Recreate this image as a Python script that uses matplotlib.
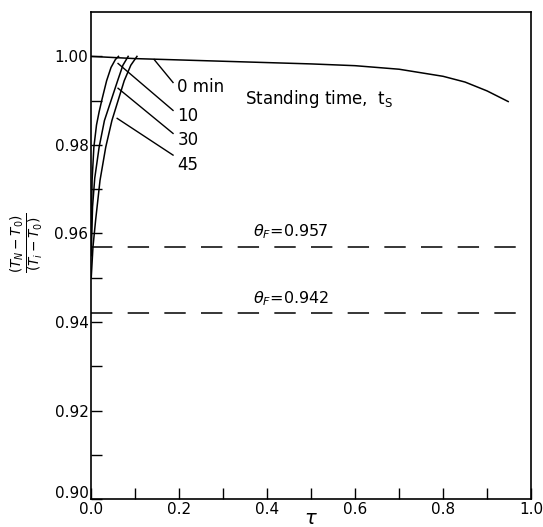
import matplotlib.pyplot as plt
from matplotlib.transforms import ScaledTranslation

# 0 min: no standing time, flat line slowly drooping
tau_0 = [0.0, 0.1, 0.2, 0.3, 0.4, 0.5, 0.6, 0.7, 0.8, 0.85, 0.9, 0.948]
theta_0 = [1.0, 0.9995, 0.9992, 0.9989, 0.9986, 0.9983, 0.9979, 0.9971, 0.9955, 0.9942, 0.9922, 0.9898]

# start-up curves after standing time of 10, 30, 45 min
tau_10 = [0.0, 0.002, 0.006, 0.012, 0.018, 0.025, 0.035, 0.045, 0.055, 0.062]
theta_10 = [0.960, 0.972, 0.9795, 0.9845, 0.9875, 0.9905, 0.9945, 0.9975, 0.9993, 1.0]
tau_30 = [0.0, 0.003, 0.008, 0.018, 0.030, 0.040, 0.050, 0.060, 0.072, 0.084]
theta_30 = [0.955, 0.966, 0.9725, 0.9795, 0.9855, 0.9885, 0.9915, 0.9945, 0.998, 1.0]
tau_45 = [0.0, 0.004, 0.010, 0.020, 0.033, 0.047, 0.061, 0.075, 0.090, 0.104]
theta_45 = [0.950, 0.957, 0.963, 0.972, 0.9795, 0.9855, 0.990, 0.9945, 0.998, 1.0]

theta_F = [0.957, 0.942]

fig = plt.figure(figsize=(5.43, 5.27), dpi=100)
ax = fig.add_axes([0.168, 0.053, 0.81, 0.924])

lw = 1.1
ax.plot(tau_0, theta_0, color="black", lw=lw)
ax.plot(tau_10, theta_10, color="black", lw=lw)
ax.plot(tau_30, theta_30, color="black", lw=lw)
ax.plot(tau_45, theta_45, color="black", lw=lw)

# theta_F dashed lines
for v in theta_F:
    ax.axhline(v, color="black", lw=1.1, dashes=(14, 10))
    ax.text(0.368, v + 0.0012, r"$\theta_F$=" + f"{v:.3f}", fontsize=11.5, va="bottom", ha="left")

# labels with leader lines
labels = ["0 min", "10", "30", "45"]
label_y = [0.993, 0.9865, 0.981, 0.9755]
start_pts = [(0.186, 0.9941), (0.186, 0.9878), (0.186, 0.9826), (0.186, 0.9777)]
end_pts = [(0.143, 0.9993), (0.061, 0.9984), (0.061, 0.9928), (0.059, 0.986)]
for lab, ly, s, e in zip(labels, label_y, start_pts, end_pts):
    ax.plot([s[0], e[0]], [s[1], e[1]], color="black", lw=1.0)
    ax.text(0.196, ly, lab, fontsize=12, va="center", ha="left")

ax.text(0.35, 0.9903, r"Standing time,  t$_\mathregular{S}$", fontsize=12, va="center", ha="left")

ax.set_xlim(0, 1.0)
ax.set_ylim(0.90, 1.01)
ax.set_xticks([0.0, 0.2, 0.4, 0.6, 0.8, 1.0])
ax.set_xticks([0.1, 0.3, 0.5, 0.7, 0.9], minor=True)
ax.set_yticks([0.90, 0.92, 0.94, 0.96, 0.98, 1.00])
ax.set_yticks([0.91, 0.93, 0.95, 0.97, 0.99], minor=True)
ax.set_xticklabels(["0.0", "0.2", "0.4", "0.6", "0.8", "1.0"])
ax.set_yticklabels(["0.90", "0.92", "0.94", "0.96", "0.98", "1.00"])
ax.tick_params(which="both", direction="in", length=8, width=1.0, labelsize=11, pad=2)

# lift the 0.90 label a little so it clears the 0.0 label
lab0 = ax.get_yticklabels()[0]
lab0.set_transform(lab0.get_transform() + ScaledTranslation(0, 5 / 72, fig.dpi_scale_trans))

fig.text(311 / 543, 1 - 519 / 527, r"$\tau$", fontsize=14, ha="center", va="center")
fig.text(27 / 543, 1 - 243 / 527, r"$\frac{(T_N-T_0)}{(T_i-T_0)}$", fontsize=14,
         rotation=90, ha="center", va="center")

for sp in ax.spines.values():
    sp.set_linewidth(1.2)

fig.savefig("out.png", dpi=100)
